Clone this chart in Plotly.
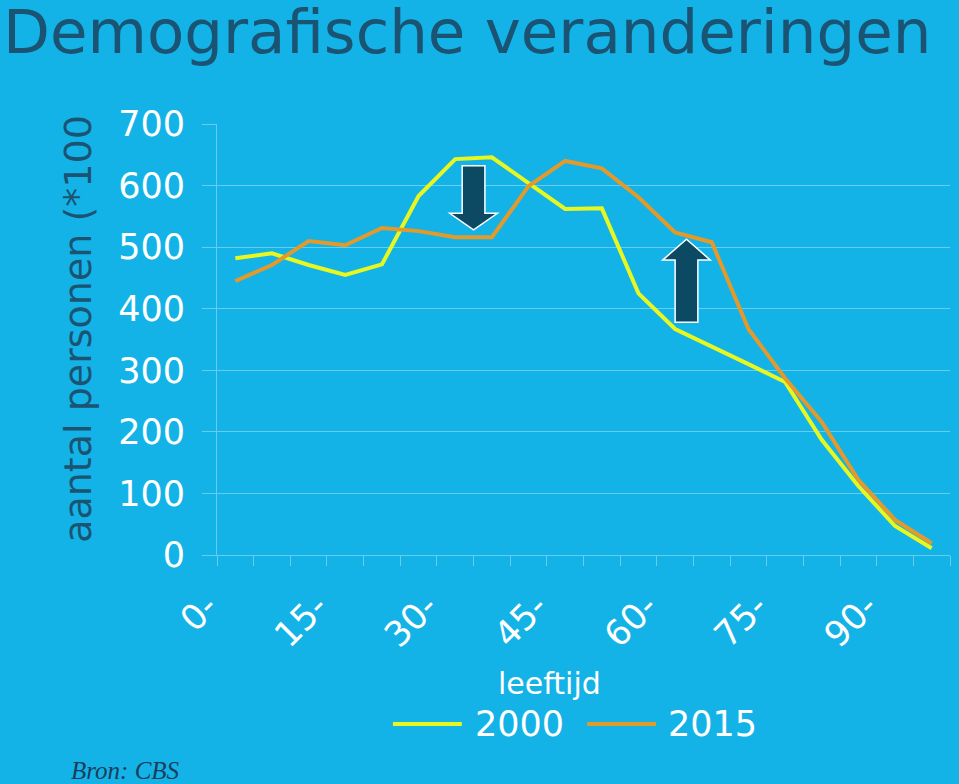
import plotly.graph_objects as go

# leeftijdsklassen (5-jaars groepen) en aantallen personen (*1000)
ages = [f"{a}-" for a in range(0, 100, 5)]
pop_2000 = [482, 490, 471, 455, 472, 583, 643, 646, 604, 562,
            563, 425, 367, 339, 310, 281, 187, 112, 47, 11]
pop_2015 = [445, 471, 510, 503, 531, 526, 516, 516, 599, 640,
            628, 581, 524, 508, 367, 287, 216, 122, 57, 19]
label_every = 3

BG = "#14B3E7"
DARK = "#1B5373"
ARROW = "#0C4A63"
YELLOW = "#E8F71F"
ORANGE = "#E39A2A"
GRID = "rgba(255,255,255,0.35)"
FONT = "DejaVu Sans"

x = list(range(len(ages)))
fig = go.Figure()
series = [("2000", pop_2000, YELLOW), ("2015", pop_2015, ORANGE)]
for name, vals, col in series:
    fig.add_trace(go.Scatter(x=x, y=vals, mode="lines", name=name,
                             line=dict(color=col, width=4), showlegend=False))


def arrow(cx, y_base, y_neck, y_tip, shaft=0.31, head=0.65):
    # block arrow in data units (x = age-class index, y = persons)
    pts = [(cx - shaft, y_base), (cx + shaft, y_base), (cx + shaft, y_neck),
           (cx + head, y_neck), (cx, y_tip), (cx - head, y_neck),
           (cx - shaft, y_neck)]
    path = "M " + " L ".join(f"{px},{py}" for px, py in pts) + " Z"
    return dict(type="path", path=path, xref="x", yref="y",
                fillcolor=ARROW, line=dict(color="white", width=1.5),
                layer="above")


shapes = [arrow(6.5, 632, 555, 528), arrow(12.31, 378, 479, 513)]

# handmatige legenda met lange lijnstukken
legend_pos = [(0.240, 0.349), (0.505, 0.612)]
annotations = []
for (name, _, col), (x0, tx) in zip(series, legend_pos):
    shapes.append(dict(type="line", xref="paper", yref="paper",
                       x0=x0, x1=x0 + 0.094, y0=-0.392, y1=-0.392,
                       line=dict(color=col, width=4)))
    annotations.append(dict(text=name, xref="paper", yref="paper", x=tx,
                            y=-0.392, xanchor="left", yanchor="middle",
                            showarrow=False,
                            font=dict(family=FONT, size=35, color="white")))

annotations += [
    dict(text="leeftijd", xref="paper", yref="paper", x=0.454, y=-0.297,
         xanchor="center", yanchor="middle", showarrow=False,
         font=dict(family=FONT, size=30, color="white")),
    dict(text="aantal personen (*100", xref="paper", yref="paper",
         x=-0.190, y=0.023, xanchor="center", yanchor="bottom",
         textangle=-90, showarrow=False,
         font=dict(family=FONT, size=38, color=DARK)),
    dict(text="<i>Bron: CBS</i>", xref="paper", yref="paper", x=-0.202,
         y=-0.499, xanchor="left", yanchor="middle", showarrow=False,
         font=dict(family="Liberation Serif", size=25, color="#1B3D5C")),
]

fig.update_layout(
    width=959, height=784,
    paper_bgcolor=BG, plot_bgcolor=BG,
    margin=dict(l=217, r=9, t=124, b=229),
    title=dict(text="Demografische veranderingen", x=0.0, xanchor="left",
               xref="container", y=1.0, yanchor="top", yref="container",
               pad=dict(t=10, l=3),
               font=dict(family=FONT, size=61, color=DARK)),
    shapes=shapes, annotations=annotations,
)
fig.update_xaxes(
    range=[-0.5, len(ages) - 0.5],
    tickmode="array", tickvals=x[::label_every], ticktext=ages[::label_every],
    tickangle=-45, ticks="", showgrid=False,
    tickfont=dict(family=FONT, size=35, color="white"),
    showline=True, linecolor=GRID, linewidth=1, zeroline=False,
    ticklabelshift=-28, ticklabelstandoff=16,
    minor=dict(tickmode="linear", tick0=-0.5, dtick=1, ticks="outside",
               ticklen=10, tickcolor=GRID, tickwidth=1, showgrid=False),
)
fig.update_yaxes(
    range=[0, 700], dtick=100, showgrid=True, gridcolor=GRID, gridwidth=1,
    ticks="outside", ticklen=14, tickcolor=GRID, zeroline=False,
    showline=True, linecolor=GRID, linewidth=1, ticklabelstandoff=10,
    tickfont=dict(family=FONT, size=35, color="white"),
)

fig.write_html(
    "out.html",
    config={"displayModeBar": False},
    post_script="document.body.style.margin='0';"
                "document.body.style.overflow='hidden';",
)
